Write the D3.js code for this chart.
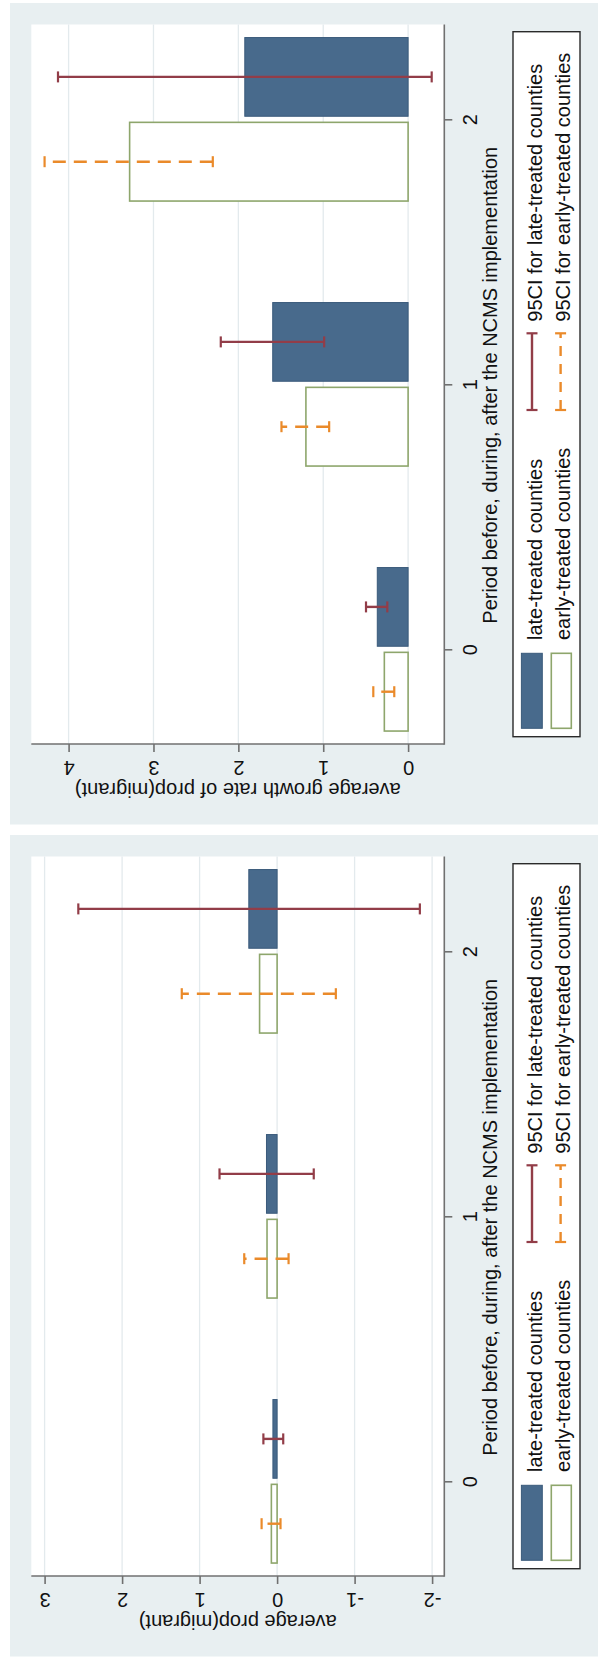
<!DOCTYPE html>
<html>
<head>
<meta charset="utf-8">
<script src="https://cdn.jsdelivr.net/npm/d3@7"></script>
<style>
  html, body { margin: 0; padding: 0; background: #ffffff; }
  svg { display: block; }
  text { font-family: "Liberation Sans", Arial, Helvetica, sans-serif; fill: #111111; }
</style>
</head>
<body>
<svg id="chart" width="598" height="1657"></svg>
<script>
// Periods relative to the NCMS rollout: 0 = before, 1 = during, 2 = after
const categories = [0, 1, 2];

// Average growth rate of prop(migrant)
const growthLate     = [0.363, 1.595, 1.924];
const growthLateLo   = [0.245, 0.989, -0.278];
const growthLateHi   = [0.496, 2.207, 4.125];
const growthEarly    = [0.280, 1.204, 3.281];
const growthEarlyLo  = [0.163, 0.930, 2.301];
const growthEarlyHi  = [0.410, 1.492, 4.283];
const growthTicks    = [0, 1, 2, 3, 4];

// Average prop(migrant)
const propLate       = [0.054, 0.137, 0.365];
const propLateLo     = [-0.079, -0.473, -1.842];
const propLateHi     = [0.177, 0.743, 2.565];
const propEarly      = [0.074, 0.130, 0.226];
const propEarlyLo    = [-0.044, -0.148, -0.758];
const propEarlyHi    = [0.200, 0.424, 1.230];
const propTicks      = [-2, -1, 0, 1, 2, 3];

const seriesNames = ["late-treated counties", "early-treated counties",
                     "95CI for late-treated counties", "95CI for early-treated counties"];
const catTitle = "Period before, during, after the NCMS implementation";

// Colours
const C = {
  region: "#e8eff1",
  grid: "#e3eaed",
  axis: "#707070",
  lateFill: "#486a8c",
  lateStroke: "#3a5a7b",
  earlyStroke: "#8ea66c",
  ciLate: "#923d48",
  ciEarly: "#ea8a2a"
};

const svg = d3.select("#chart");

// The two graphs are laid out turned a quarter-turn: values run right-to-left
// along the bottom, periods run bottom-to-top along the right-hand side.
const panels = [
  {
    oy: 0,
    domain: [0, 4], range: [408.1, 68.6], ticks: growthTicks,
    late: growthLate, lateLo: growthLateLo, lateHi: growthLateHi,
    early: growthEarly, earlyLo: growthEarlyLo, earlyHi: growthEarlyHi,
    title: "average growth rate of prop(migrant)"
  },
  {
    oy: 832,
    domain: [-2, 3], range: [432.1, 44.6], ticks: propTicks,
    late: propLate, lateLo: propLateLo, lateHi: propLateHi,
    early: propEarly, earlyLo: propEarlyLo, earlyHi: propEarlyHi,
    title: "average prop(migrant)"
  }
];

const FS = 20;
const region = { x0: 10, x1: 598, y0: 3, y1: 824.5 };
const plot = { x0: 31.3, x1: 444.3, y0: 24.5, y1: 744 };
const barOffset = 0.16, barWidth = 0.297;
const plainInt = d => String(d);   // ASCII hyphen for negatives

function capLine(g, x1, x2, y, color, dashed) {
  const line = g.append("line")
    .attr("x1", x1).attr("x2", x2).attr("y1", y).attr("y2", y)
    .attr("stroke", color).attr("stroke-width", 2.4);
  if (dashed) line.attr("stroke-dasharray", "13,8");
  [x1, x2].forEach(x => {
    g.append("line")
      .attr("x1", x).attr("x2", x).attr("y1", y - 5.5).attr("y2", y + 5.5)
      .attr("stroke", color).attr("stroke-width", 2.2);
  });
}

panels.forEach(p => {
  const g = svg.append("g").attr("transform", `translate(0,${p.oy})`);

  // graph region and plot region
  g.append("rect")
    .attr("x", region.x0).attr("y", region.y0)
    .attr("width", region.x1 - region.x0).attr("height", region.y1 - region.y0)
    .attr("fill", C.region);
  g.append("rect")
    .attr("x", plot.x0).attr("y", plot.y0)
    .attr("width", plot.x1 - plot.x0).attr("height", plot.y1 - plot.y0)
    .attr("fill", "#ffffff");

  const xVal = d3.scaleLinear().domain(p.domain).range(p.range);
  const yCat = d3.scaleLinear().domain([0, 2]).range([649.3, 119.3]);

  // gridlines
  g.append("g").selectAll("line").data(p.ticks).join("line")
    .attr("x1", d => xVal(d)).attr("x2", d => xVal(d))
    .attr("y1", plot.y0).attr("y2", plot.y1)
    .attr("stroke", C.grid).attr("stroke-width", 1.3);

  // bars
  const barBand = (c, off) => {
    const a = yCat(c + off + barWidth / 2), b = yCat(c + off - barWidth / 2);
    return { y: Math.min(a, b), h: Math.abs(b - a) };
  };
  const drawBars = (vals, off, fill, stroke, sw) => {
    g.append("g").selectAll("rect").data(categories).join("rect")
      .attr("x", (c, i) => Math.min(xVal(0), xVal(vals[i])))
      .attr("width", (c, i) => Math.abs(xVal(vals[i]) - xVal(0)))
      .attr("y", c => barBand(c, off).y)
      .attr("height", c => barBand(c, off).h)
      .attr("fill", fill).attr("stroke", stroke).attr("stroke-width", sw);
  };
  drawBars(p.late, barOffset, C.lateFill, C.lateStroke, 1);
  drawBars(p.early, -barOffset, "#ffffff", C.earlyStroke, 1.6);

  // confidence intervals (drawn from the lower bound towards the upper bound)
  const ciG = g.append("g");
  categories.forEach((c, i) => {
    capLine(ciG, xVal(p.lateLo[i]), xVal(p.lateHi[i]), yCat(c + barOffset), C.ciLate, false);
    capLine(ciG, xVal(p.earlyLo[i]), xVal(p.earlyHi[i]), yCat(c - barOffset), C.ciEarly, true);
  });

  // value axis (along the bottom)
  const vAxis = g.append("g")
    .attr("transform", `translate(0,${plot.y1})`)
    .call(d3.axisBottom(xVal).tickValues(p.ticks).tickSize(8).tickFormat(plainInt));
  vAxis.select(".domain").remove();
  vAxis.selectAll(".tick line").attr("stroke", C.axis).attr("stroke-width", 1.6);
  vAxis.selectAll(".tick text")
    .attr("y", 0).attr("dy", null)
    .attr("transform", "translate(0,17) rotate(180)")
    .attr("text-anchor", "middle")
    .style("font-size", FS + "px")
    .attr("fill", "#111");
  g.append("line")
    .attr("x1", plot.x0).attr("x2", plot.x1).attr("y1", plot.y1).attr("y2", plot.y1)
    .attr("stroke", C.axis).attr("stroke-width", 1.6);

  g.append("text")
    .attr("transform", `translate(${(plot.x0 + plot.x1) / 2},783) rotate(180)`)
    .attr("text-anchor", "middle")
    .style("font-size", FS + "px")
    .text(p.title);

  // period axis (along the right-hand side)
  const cAxis = g.append("g")
    .attr("transform", `translate(${plot.x1},0)`)
    .call(d3.axisRight(yCat).tickValues(categories).tickSize(8).tickFormat(plainInt));
  cAxis.select(".domain").remove();
  cAxis.selectAll(".tick line").attr("stroke", C.axis).attr("stroke-width", 1.6);
  cAxis.selectAll(".tick text")
    .attr("x", 0).attr("dy", null)
    .attr("transform", "translate(32.4,0) rotate(-90)")
    .attr("text-anchor", "middle")
    .style("font-size", FS + "px")
    .attr("fill", "#111");
  g.append("line")
    .attr("x1", plot.x1).attr("x2", plot.x1).attr("y1", plot.y0).attr("y2", plot.y1 + 0.8)
    .attr("stroke", C.axis).attr("stroke-width", 1.6);

  g.append("text")
    .attr("transform", `translate(497,${(plot.y0 + plot.y1) / 2 + 1}) rotate(-90)`)
    .attr("text-anchor", "middle")
    .style("font-size", FS + "px")
    .text(catTitle);

  // legend
  const lg = g.append("g");
  lg.append("rect")
    .attr("x", 513).attr("y", 31.7).attr("width", 67).attr("height", 705)
    .attr("fill", "#ffffff").attr("stroke", "#2a2a2a").attr("stroke-width", 1.4);
  lg.append("rect")
    .attr("x", 521.4).attr("y", 653.3).attr("width", 20.9).attr("height", 75)
    .attr("fill", C.lateFill).attr("stroke", C.lateStroke).attr("stroke-width", 1);
  lg.append("rect")
    .attr("x", 551.3).attr("y", 653.3).attr("width", 20).attr("height", 75)
    .attr("fill", "#ffffff").attr("stroke", C.earlyStroke).attr("stroke-width", 1.6);

  const keyCI = (x, color, dashed) => {
    const l = lg.append("line")
      .attr("x1", x).attr("x2", x).attr("y1", 410).attr("y2", 333.3)
      .attr("stroke", color).attr("stroke-width", 2.4);
    if (dashed) l.attr("stroke-dasharray", "10,8");
    [333.3, 410].forEach(y => {
      lg.append("line")
        .attr("x1", x - 5.5).attr("x2", x + 5.5).attr("y1", y).attr("y2", y)
        .attr("stroke", color).attr("stroke-width", 2.2);
    });
  };
  keyCI(532, C.ciLate, false);
  keyCI(560.6, C.ciEarly, true);

  const legendText = [
    { x: 541.6, y: 640, t: seriesNames[0] },
    { x: 570.3, y: 640, t: seriesNames[1] },
    { x: 541.6, y: 321.7, t: seriesNames[2] },
    { x: 570.3, y: 321.7, t: seriesNames[3] }
  ];
  lg.selectAll("text.lt").data(legendText).join("text")
    .attr("class", "lt")
    .attr("transform", d => `translate(${d.x},${d.y}) rotate(-90)`)
    .attr("text-anchor", "start")
    .style("font-size", FS + "px")
    .text(d => d.t);
});
</script>
</body>
</html>
